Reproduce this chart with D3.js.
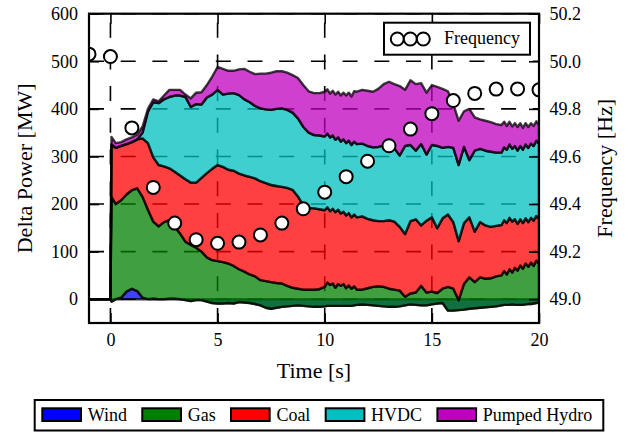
<!DOCTYPE html>
<html><head><meta charset="utf-8">
<script src="https://cdn.jsdelivr.net/npm/d3@7"></script>
<style>
body{margin:0;background:#fff}
svg{display:block}
text{font-family:"Liberation Serif","Times New Roman",serif;fill:#000}
</style>
</head><body>
<svg id="chart" width="630" height="432"></svg>
<script>
// ---------------- data ----------------
const time = [-1,-0.5,0,0.05,0.25,0.5,0.75,1,1.25,1.5,1.75,2,2.25,2.5,2.75,3,3.25,3.5,3.75,4,4.25,4.5,4.75,5,5.25,5.5,5.75,6,6.25,6.5,6.75,7,7.25,7.5,7.75,8,8.25,8.5,8.75,9,9.25,9.5,9.75,10,
  10.125,10.25,10.375,10.5,10.625,10.75,10.875,11,11.125,11.25,11.375,11.5,
  11.75,12,12.25,12.5,12.75,13,13.25,13.5,13.75,14,14.25,14.5,14.75,15,15.25,15.5,15.75,16,16.25,16.5,16.75,17,17.25,17.5,17.75,18,18.25,
  18.375,18.5,18.625,18.75,18.875,19,19.125,19.25,19.375,19.5,19.625,19.75,19.875,20];
const wind  = [0,0,0,-5,0,3,16,22,17,3,0,1,0,0,1,1,0,-2,-4,-2,-2,-5,-8,-9,-9,-8,-9,-6,-7,-8,-10,-13,-18,-20,-18,-16,-15,-14,-13,-14,-15,-16,-16,-15,
  -14,-14,-14,-14,-14,-14,-14,-14,-14,-14,-13,-12,
  -11,-12,-13,-14,-15,-16,-16,-15,-13,-11,-12,-13,-13,-11,-9,-8,-24,-24,-23,-22,-20,-19,-18,-17,-16,-15,-13,
  -12,-12,-12,-11,-12,-12,-12,-12,-11,-10,-10,-9,-8,-6];
const gas   = [0,0,0,220,200,205,204,207,216,212,188,162,153,162,165,151,138,123,118,110,102,93,90,89,87,83,79,69,65,60,58,53,56,56,52,49,43,38,35,34,35,36,37,41,
  49,44,47,38,46,42,46,37,43,36,40,32,
  31,35,39,41,41,38,36,33,18,23,26,41,27,27,22,30,50,46,21,54,66,55,64,60,60,63,63,
  71,64,75,67,78,72,83,76,86,78,87,79,89,80];
const coal  = [0,0,0,110,118,114,106,101,103,123,140,135,129,117,109,116,122,131,131,137,155,177,192,202,200,197,200,201,202,205,206,208,206,204,204,203,206,206,194,177,172,171,168,161,
  158,155,157,159,156,152,152,153,152,150,151,152,
  154,146,140,137,138,144,143,134,132,152,154,127,151,156,136,148,152,140,124,128,126,106,116,112,108,106,106,
  107,108,108,107,102,98,97,96,95,94,94,95,94,94];
const hvdc  = [0,0,0,0,0,0,0,0,0,12,66,116,130,141,150,160,168,173,159,165,154,159,156,158,152,160,163,165,160,157,152,153,155,158,162,165,164,162,164,165,158,154,155,155,
  155,155,154,152,152,151,152,152,152,152,153,154,
  153,153,153,156,159,158,154,150,185,160,144,171,139,152,173,148,142,156,160,160,120,170,154,157,158,154,152,
  153,154,154,153,154,154,154,154,155,156,156,157,158,158];
const hydro = [0,0,0,16,10,8,10,10,10,13,6,6,4,8,15,12,12,5,18,24,26,26,38,48,54,48,47,54,64,64,67,73,75,78,79,78,78,79,85,88,87,88,89,94,
  93,92,94,95,96,97,98,100,101,102,106,110,
  113,116,117,122,129,133,135,146,118,136,140,128,130,126,124,124,117,92,93,75,108,70,62,63,62,60,58,
  54,50,48,47,48,50,48,46,45,44,43,42,41,40];

const freqTime  = [-1,0,1,2,3,4,5,6,7,8,9,10,11,12,13,14,15,16,17,18,19,20];
const frequency = [50.03,50.02,49.72,49.47,49.32,49.25,49.235,49.24,49.27,49.32,49.38,49.45,49.515,49.58,49.645,49.715,49.78,49.835,49.865,49.883,49.884,49.88];

const seriesNames  = ["Wind","Gas","Coal","HVDC","Pumped Hydro"];
const seriesColors = ["#0000ff","#008000","#ff0000","#00bfbf","#bf00bf"];
const xTicks = [0,5,10,15,20];
const yTicks = [0,100,200,300,400,500,600];
const fTicks = [49.0,49.2,49.4,49.6,49.8,50.0,50.2];

// ---------------- layout ----------------
const svg = d3.select("#chart");
const M = {l:89, r:539, t:13.7, b:323};
const x  = d3.scaleLinear().domain([-1,20]).range([M.l,M.r]);
const y  = d3.scaleLinear().domain([-50,600]).range([M.b,M.t]);
const yf = d3.scaleLinear().domain([48.9,50.2]).range([M.b,M.t]);

svg.append("defs").append("clipPath").attr("id","plotclip")
  .append("rect").attr("x",M.l).attr("y",M.t).attr("width",M.r-M.l).attr("height",M.b-M.t);

// grid (below the areas)
const grid = svg.append("g");
const dash = "15,16.7";
xTicks.forEach(t=>{
  grid.append("line").attr("x1",x(t)).attr("x2",x(t)).attr("y1",M.b).attr("y2",M.t)
    .attr("stroke","#000").attr("stroke-width",1.6).attr("stroke-dasharray",dash);
});
yTicks.forEach(v=>{
  grid.append("line").attr("x1",M.l).attr("x2",M.r).attr("y1",y(v)).attr("y2",y(v))
    .attr("stroke","#000").attr("stroke-width",1.6).attr("stroke-dasharray",dash);
});

// stacked areas
const table = time.map((t,i)=>({t, "Wind":wind[i], "Gas":gas[i], "Coal":coal[i], "HVDC":hvdc[i], "Pumped Hydro":hydro[i]}));
const stack = d3.stack().keys(seriesNames).order(d3.stackOrderNone).offset(d3.stackOffsetNone);
const layers = stack(table);
const area = d3.area().x(d=>x(d.data.t)).y0(d=>y(d[0])).y1(d=>y(d[1]));
const areaG = svg.append("g").attr("clip-path","url(#plotclip)");
layers.forEach((L,i)=>{
  areaG.append("path").attr("d",area(L))
    .attr("fill",seriesColors[i]).attr("fill-opacity",0.75)
    .attr("stroke","#000").attr("stroke-opacity",0.75).attr("stroke-width",2.4)
    .attr("stroke-linejoin","round");
});

// frequency markers
const fG = svg.append("g").attr("clip-path","url(#plotclip)");
fG.selectAll("circle").data(freqTime.map((t,i)=>({t,f:frequency[i]}))).join("circle")
  .attr("cx",d=>x(d.t)).attr("cy",d=>yf(d.f)).attr("r",6.5)
  .attr("fill","#fff").attr("stroke","#000").attr("stroke-width",2);

// axes
const fs = 18;
function styleAxis(g){
  g.select(".domain").remove();
  g.selectAll(".tick line").attr("stroke","#000").attr("stroke-width",1.6);
  g.selectAll(".tick text").attr("font-size",fs).attr("font-family","Liberation Serif");
}
svg.append("g").attr("transform",`translate(0,${M.b})`)
  .call(d3.axisBottom(x).tickValues(xTicks).tickSize(-10).tickPadding(10.7).tickFormat(d3.format("d")))
  .call(styleAxis);
svg.append("g").attr("transform",`translate(0,${M.t})`)
  .call(d3.axisTop(x).tickValues(xTicks).tickSize(-10).tickFormat(""))
  .call(styleAxis);
svg.append("g").attr("transform",`translate(${M.l},0)`)
  .call(d3.axisLeft(y).tickValues(yTicks).tickSize(-10).tickPadding(11).tickFormat(d3.format("d")))
  .call(styleAxis);
svg.append("g").attr("transform",`translate(${M.r},0)`)
  .call(d3.axisRight(yf).tickValues(fTicks).tickSize(-10).tickPadding(10.6).tickFormat(d3.format(".1f")))
  .call(styleAxis);

// frame
svg.append("rect").attr("x",M.l).attr("y",M.t).attr("width",M.r-M.l).attr("height",M.b-M.t)
  .attr("fill","none").attr("stroke","#000").attr("stroke-width",2.2);

// axis labels
svg.append("text").attr("x",(M.l+M.r)/2).attr("y",378).attr("text-anchor","middle")
  .attr("font-size",22).text("Time [s]");
svg.append("text").attr("transform",`translate(32,${(M.t+M.b)/2}) rotate(-90)`).attr("text-anchor","middle")
  .attr("font-size",22).text("Delta Power [MW]");
svg.append("text").attr("transform",`translate(611.5,${(M.t+M.b)/2}) rotate(-90)`).attr("text-anchor","middle")
  .attr("font-size",22).text("Frequency [Hz]");

// frequency legend
const fl = svg.append("g");
fl.append("rect").attr("x",384).attr("y",22.7).attr("width",146).attr("height",32)
  .attr("fill","#fff").attr("stroke","#000").attr("stroke-width",2);
[397.3,410.3,423.3].forEach(cx=>{
  fl.append("circle").attr("cx",cx).attr("cy",39).attr("r",6.5)
    .attr("fill","#fff").attr("stroke","#000").attr("stroke-width",2);
});
fl.append("text").attr("x",444).attr("y",44).attr("font-size",fs).text("Frequency");

// bottom legend
const lg = svg.append("g");
lg.append("rect").attr("x",34.7).attr("y",400).attr("width",568.6).attr("height",30.5)
  .attr("fill","#fff").attr("stroke","#000").attr("stroke-width",2);
let lx = 42.3;
seriesNames.forEach((name,i)=>{
  lg.append("rect").attr("x",lx).attr("y",408.3).attr("width",38.7).attr("height",12.7)
    .attr("fill",seriesColors[i]).attr("stroke","#000").attr("stroke-width",2);
  const tx = lg.append("text").attr("x",lx+45.4).attr("y",420.5).attr("font-size",fs).text(name);
  lx = lx + 45.4 + tx.node().getComputedTextLength() + 15.3;
});
</script>
</body></html>
